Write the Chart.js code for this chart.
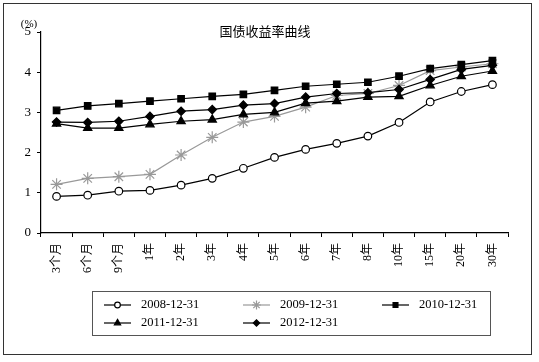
<!DOCTYPE html>
<html>
<head>
<meta charset="utf-8">
<script src="https://cdn.jsdelivr.net/npm/chart.js@4"></script>
<style>
  html, body { margin: 0; padding: 0; background: #fff; }
  #wrap { width: 539px; height: 362px; position: relative; }
</style>
</head>
<body>
<div id="wrap"><canvas id="yieldChart"></canvas></div>
<script>
// 期限
const categories = ['3个月', '6个月', '9个月', '1年', '2年', '3年', '4年', '5年', '6年', '7年', '8年', '10年', '15年', '20年', '30年'];
const seriesNames = ['2008-12-31', '2009-12-31', '2010-12-31', '2011-12-31', '2012-12-31'];

// 收益率 (%)
const y2008 = [0.91, 0.94, 1.04, 1.06, 1.19, 1.36, 1.61, 1.88, 2.08, 2.23, 2.41, 2.75, 3.26, 3.52, 3.69];
const y2009 = [1.21, 1.36, 1.40, 1.46, 1.94, 2.38, 2.76, 2.90, 3.13, 3.42, 3.47, 3.67, 4.04, 4.13, 4.21];
const y2010 = [3.05, 3.16, 3.22, 3.28, 3.34, 3.40, 3.45, 3.55, 3.65, 3.70, 3.75, 3.90, 4.09, 4.19, 4.29];
const y2011 = [2.72, 2.61, 2.61, 2.70, 2.78, 2.82, 2.95, 3.00, 3.23, 3.28, 3.38, 3.40, 3.67, 3.90, 4.03];
const y2012 = [2.76, 2.75, 2.78, 2.90, 3.03, 3.07, 3.18, 3.22, 3.38, 3.47, 3.49, 3.57, 3.82, 4.07, 4.17];

const yTicks = [0, 1, 2, 3, 4, 5];

const serif = '"Liberation Serif", "DejaVu Serif", "Noto Sans CJK SC", serif';

function ds(label, data, style) {
    return Object.assign({
        label: label,
        data: data,
        borderColor: '#000',
        backgroundColor: '#000',
        borderWidth: 1.2,
        pointBorderWidth: 1.2,
        tension: 0,
        order: 0
    }, style);
}

const datasets = [
    ds(seriesNames[0], y2008, { pointStyle: 'circle', pointRadius: 3.8, backgroundColor: '#fff' }),
    ds(seriesNames[1], y2009, { pointStyle: 'star', pointRadius: 6, borderColor: '#999', backgroundColor: '#999', order: 10 }),
    ds(seriesNames[2], y2010, { pointStyle: 'rect', pointRadius: 4.6 }),
    ds(seriesNames[3], y2011, { pointStyle: 'triangle', pointRadius: 4.8 }),
    ds(seriesNames[4], y2012, { pointStyle: 'rectRot', pointRadius: 4.2 })
];

// 外框、标题、(%)
const decor = {
    id: 'decor',
    beforeDraw(chart) {
        const ctx = chart.ctx;
        ctx.save();
        ctx.fillStyle = '#fff';
        ctx.fillRect(0, 0, chart.width, chart.height);
        ctx.strokeStyle = '#333';
        ctx.lineWidth = 1;
        ctx.strokeRect(3.5, 3.5, 528, 351);
        ctx.restore();
    },
    afterDraw(chart) {
        const ctx = chart.ctx;
        const area = chart.chartArea;
        ctx.save();
        ctx.fillStyle = '#000';
        ctx.textBaseline = 'middle';
        ctx.textAlign = 'center';
        ctx.font = '13px ' + serif;
        ctx.fillText('国债收益率曲线', 265, area.top + 1);
        ctx.font = '11px ' + serif;
        ctx.fillText('(%)', 29, 24);
        ctx.restore();
    }
};

// 图例（三列两行，带框）
const boxLegend = {
    id: 'boxLegend',
    afterDraw(chart) {
        const ctx = chart.ctx;
        ctx.save();
        ctx.strokeStyle = '#555';
        ctx.lineWidth = 1;
        ctx.strokeRect(92.5, 291.5, 398, 44);
        const colX = [104, 243, 382];
        const rowY = [305, 323];
        chart.data.datasets.forEach(function (d, i) {
            const x = colX[i % 3];
            const y = rowY[Math.floor(i / 3)];
            ctx.strokeStyle = d.borderColor;
            ctx.lineWidth = d.borderWidth;
            ctx.beginPath();
            ctx.moveTo(x, y);
            ctx.lineTo(x + 27, y);
            ctx.stroke();
            ctx.fillStyle = d.backgroundColor;
            ctx.strokeStyle = d.borderColor;
            ctx.lineWidth = d.pointBorderWidth;
            Chart.helpers.drawPoint(ctx, {
                pointStyle: d.pointStyle,
                radius: d.pointRadius * 0.75,
                borderWidth: d.pointBorderWidth,
                rotation: 0
            }, x + 13.5, y);
            ctx.fillStyle = '#000';
            ctx.font = '12.5px ' + serif;
            ctx.textAlign = 'left';
            ctx.textBaseline = 'middle';
            ctx.fillText(d.label, x + 37, y);
        });
        ctx.restore();
    }
};

new Chart(document.getElementById('yieldChart'), {
    type: 'line',
    data: { labels: categories, datasets: datasets },
    options: {
        responsive: true,
        maintainAspectRatio: false,
        animation: false,
        layout: { padding: { top: 32, right: 31, left: 0, bottom: 0 } },
        plugins: {
            legend: { display: false },
            title: { display: false },
            tooltip: { enabled: false }
        },
        scales: {
            x: {
                offset: true,
                grid: { offset: true, drawOnChartArea: false, tickLength: 4, color: '#000' },
                border: { color: '#000', width: 1.2 },
                ticks: {
                    autoSkip: false,
                    minRotation: 90,
                    maxRotation: 90,
                    padding: 6,
                    color: '#000',
                    font: { family: serif, size: 12 }
                },
                afterFit(scale) { scale.height = 129; }
            },
            y: {
                min: yTicks[0],
                max: yTicks[yTicks.length - 1],
                afterBuildTicks(scale) { scale.ticks = yTicks.map(v => ({ value: v })); },
                grid: { drawOnChartArea: false, tickLength: 4, color: '#000' },
                border: { color: '#000', width: 1.2 },
                ticks: {
                    padding: 6,
                    color: '#000',
                    font: { family: serif, size: 13 }
                },
                afterFit(scale) { scale.width = 41; }
            }
        }
    },
    plugins: [decor, boxLegend]
});
</script>
</body>
</html>
